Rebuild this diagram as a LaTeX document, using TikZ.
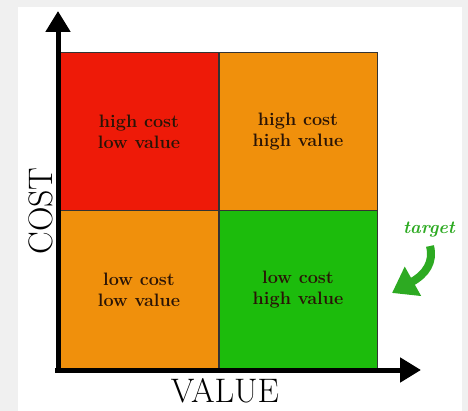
\documentclass[tikz,border=0pt]{standalone}
\usepackage{fontspec}
\usepackage{tikz}
\usetikzlibrary{arrows.meta}

\definecolor{quadred}{HTML}{EE1A08}
\definecolor{quadorange}{HTML}{F0900C}
\definecolor{quadgreen}{HTML}{1CBC0C}
\definecolor{arrowgreen}{HTML}{2DAA22}
\definecolor{quadtext}{HTML}{2A1406}

\begin{document}
\begin{tikzpicture}[
		x=1pt, y=-1pt,
		quad/.style={rectangle, draw=black!80, line width=0.8pt, minimum width=158pt, minimum height=158pt,
			inner sep=0pt, align=center, text=quadtext, font=\fontsize{18}{21}\selectfont\bfseries},
		axis/.style={line width=5pt, -{Triangle[length=21pt,width=24pt]}},
		axislabel/.style={font=\fontsize{34}{36}\selectfont, inner sep=0pt}
	]
  \useasboundingbox (0,0) rectangle (468,411);
  \fill[black!6] (0,0) rectangle (468,411);
  \fill[white] (18,7) rectangle (462,411);
  \node (hclv) [quad, fill=quadred] at (139,131.5) {high cost\\low value};
  \node (hchv) [quad, fill=quadorange] at (298,131.5) {high cost\\high value};
  \node (lclv) [quad, fill=quadorange] at (139,289.5) {low cost\\low value};
  \node (lchv) [quad, fill=quadgreen] at (298,289.5) {low cost\\high value};
  \coordinate (y_from) at (58,373);
  \coordinate (y_to) at (58,11);
  \coordinate (x_from) at (55,370);
  \coordinate (x_to) at (421,370);
  \draw [axis] (y_from) -- (y_to);
  \draw [axis] (x_from) -- (x_to);
  \node (cost) [axislabel, rotate=90] at (41,211) {COST};
  \node (value) [axislabel] at (225,391) {VALUE};
  \node (target) [text=arrowgreen, font=\fontsize{18}{20}\selectfont\bfseries\itshape] at (429,230) {target};
  \coordinate (t_from) at (430,246);
  \coordinate (t_to) at (392,293);
  \draw [arrowgreen, line width=8pt, -{Triangle[length=24pt,width=32pt]}]
    (t_from) .. controls (434,262) and (426,274) .. (t_to);
\end{tikzpicture}
\end{document}
